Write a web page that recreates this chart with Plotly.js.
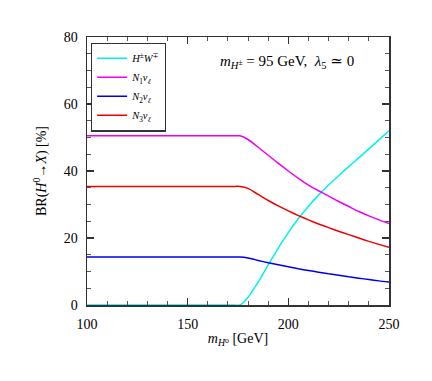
<!DOCTYPE html>
<html>
<head>
<meta charset="utf-8">
<script src="https://cdn.plot.ly/plotly-3.0.1.min.js"></script>
<style>
html,body{margin:0;padding:0;background:#fff;}
#plot{width:432px;height:381px;}
</style>
</head>
<body>
<div id="plot"></div>
<script>
// m_H0 [GeV]
const mH0 = [100, 130, 160, 172, 176, 180, 185, 190, 195, 200, 205, 210, 215, 220, 225, 230, 235, 240, 245, 250]

// BR(H0 -> X) [%]
const brHW = [0, 0, 0, 0, 0, 2.3, 6.8, 12.0, 17.0, 21.6, 25.8, 29.5, 32.8, 35.8, 38.6, 41.3, 43.9, 46.6, 49.3, 52.0]
const brN1 = [50.5, 50.5, 50.5, 50.5, 50.5, 49.4, 47.1, 44.7, 42.3, 40.0, 37.8, 35.8, 34.1, 32.5, 30.9, 29.4, 27.9, 26.6, 25.4, 24.3]
const brN2 = [14.3, 14.3, 14.3, 14.3, 14.3, 14.0, 13.3, 12.6, 12.0, 11.4, 10.8, 10.3, 9.8, 9.3, 8.9, 8.4, 8.0, 7.6, 7.2, 6.9]
const brN3 = [35.4, 35.4, 35.4, 35.4, 35.4, 34.8, 33.0, 31.2, 29.6, 28.1, 26.7, 25.4, 24.2, 23.1, 22.0, 21.0, 20.0, 19.0, 18.1, 17.2]

const names = [
  "<i>H</i><sup>±</sup><i>W</i><sup>∓</sup>",
  "<i>N</i><sub>1</sub><i>ν</i><sub><i>ℓ</i></sub>",
  "<i>N</i><sub>2</sub><i>ν</i><sub><i>ℓ</i></sub>",
  "<i>N</i><sub>3</sub><i>ν</i><sub><i>ℓ</i></sub>"
]
const colors = ["#00f0f0", "#f000f0", "#0000e8", "#f00000"]
const series = [brHW, brN1, brN2, brN3]

const font = "Liberation Serif, DejaVu Serif, serif"

const data = series.map((ys, i) => ({
  x: mH0,
  y: ys,
  name: names[i],
  type: "scatter",
  mode: "lines",
  line: {color: colors[i], width: 1.5, shape: "spline", smoothing: 0.5}
}))

const axisBase = {
  showline: true,
  linecolor: "#333",
  linewidth: 1.5,
  mirror: "ticks",
  ticks: "inside",
  ticklen: 7,
  tickwidth: 1.2,
  tickcolor: "#333",
  showgrid: false,
  zeroline: false,
  tickfont: {family: font, size: 14, color: "#000"}
}

const layout = {
  width: 432,
  height: 381,
  margin: {l: 87, r: 43, t: 37, b: 76},
  paper_bgcolor: "#fff",
  plot_bgcolor: "#fff",
  font: {family: font, color: "#000"},
  xaxis: Object.assign({}, axisBase, {
    range: [100, 250],
    tick0: 100,
    dtick: 50,
    ticklabelstandoff: 6,
    minor: {dtick: 10, ticks: "inside", ticklen: 4, tickcolor: "#555", tickwidth: 1},
    title: {text: "<i>m</i><sub><i>H</i>⁰</sub> [GeV]", font: {family: font, size: 14}, standoff: 2}
  }),
  yaxis: Object.assign({}, axisBase, {
    range: [0, 80],
    tick0: 0,
    dtick: 20,
    ticklabelstandoff: 5,
    minor: {dtick: 5, ticks: "inside", ticklen: 4, tickcolor: "#555", tickwidth: 1},
    title: {text: "BR(<i>H</i><sup>0</sup>→<i>X</i>) [%]", font: {family: font, size: 14}, standoff: 14}
  }),
  showlegend: true,
  legend: {
    x: 0.013,
    y: 0.979,
    xanchor: "left",
    yanchor: "top",
    bgcolor: "#fff",
    bordercolor: "#333",
    borderwidth: 1.2,
    itemwidth: 30,
    tracegroupgap: 0,
    font: {family: font, size: 10.5, color: "#000"}
  },
  annotations: [{
    xref: "paper", yref: "paper",
    x: 0.662, y: 0.907,
    xanchor: "center", yanchor: "middle",
    showarrow: false,
    text: "<i>m</i><sub><i>H</i><sup>±</sup></sub> = 95 GeV,  <i>λ</i><sub>5</sub> ≃ 0",
    font: {family: font, size: 15, color: "#000"}
  }]
}

Plotly.newPlot(document.getElementById("plot"), data, layout, {displayModeBar: false, staticPlot: true})
</script>
</body>
</html>
